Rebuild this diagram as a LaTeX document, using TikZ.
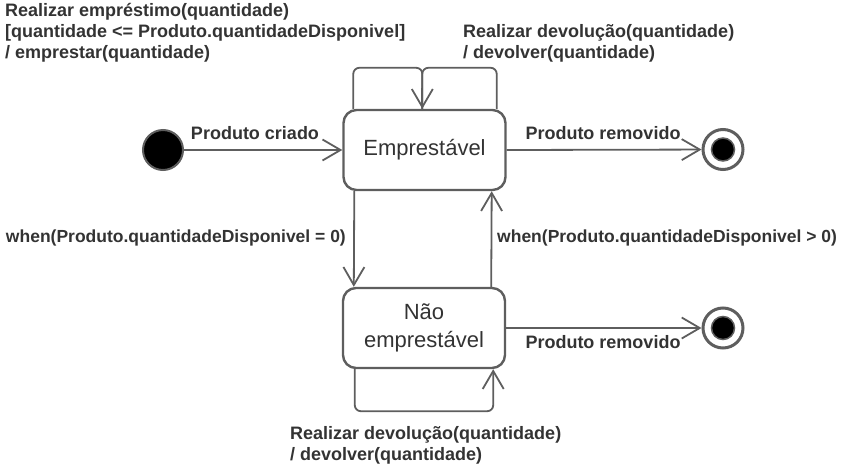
\documentclass[tikz,border=0pt]{standalone}
\usepackage{fontspec}
\setmainfont{Liberation Sans}
\usetikzlibrary{arrows.meta,calc}
\definecolor{linegray}{HTML}{5E5E5E}
\definecolor{txt}{HTML}{333333}
\tikzset{
  state/.style={draw=linegray, line width=2.4pt, rounded corners=13pt, fill=white,
    minimum width=162pt, minimum height=80pt, align=center, text=txt,
    font=\fontsize{22}{28.5}\selectfont, inner sep=0pt},
  conn/.style={draw=linegray, line width=1.8pt, -{Straight Barb[length=18pt,width=21pt,line width=1.8pt]}},
  loopline/.style={draw=linegray, line width=1.8pt, rounded corners=6pt},
  lbl/.style={text=txt, font=\bfseries\fontsize{18}{21}\selectfont, inner sep=0pt, align=left},
  guardlbl/.style={lbl, font=\bfseries\fontsize{17.5}{21}\selectfont},
  initst/.style={circle, fill=black, draw=linegray, line width=2pt, minimum size=40pt, inner sep=0pt},
  finalst/.style={circle, draw=linegray, line width=3pt, minimum size=40pt, inner sep=0pt, fill=white}
}
\begin{document}
\begin{tikzpicture}[x=1pt,y=-1pt]
\useasboundingbox (0,0) rectangle (844,469);
% states
\node[state] (e) at (424.5,150) {Emprestável};
\node[state] (n) at (424,328) {Não\\emprestável};
\node[initst] (i) at (163,150) {};
\node[finalst] (f1) at (723,149.5) {};
\node[finalst] (f2) at (723,328) {};
\fill[black, draw=linegray, line width=1.5pt] (f1) circle (11.5);
\fill[black, draw=linegray, line width=1.5pt] (f2) circle (11.5);
% coordinates for loops
\coordinate (tl) at ($(e.north west)+(11,0)$);
\coordinate (tr) at ($(e.north east)+(-10,0)$);
\coordinate (tm) at ($(e.north west)+(80,0)$);
\coordinate (bl) at ($(n.south west)+(13,0)$);
\coordinate (br) at ($(n.south east)+(-13,0)$);
\coordinate (dl1) at ($(e.south west)+(12,0)$);
\coordinate (dl2) at ($(n.north west)+(12,0)$);
\coordinate (ur1) at ($(n.north east)+(-15,0)$);
\coordinate (ur2) at ($(e.south east)+(-15,0)$);
% connectors
\draw[conn] (i) -- (e.west);
\draw[conn] (e.east) -- (f1);
\draw[conn] (n.east) -- (f2);
\draw[loopline] (tl) -- ++(0,-41) -| (tm);
\draw[loopline] (tr) -- ++(0,-41) -| (tm);
\draw[conn, shorten <=20pt] ($(tm)+(0,-41)$) -- (tm);
\draw[conn, rounded corners=6pt] (bl) -- ++(0,42) -| (br);
\draw[conn] (dl1) -- (dl2);
\draw[conn] (ur1) -- (ur2);
% labels
\node[lbl] (l1) at (255,133) {Produto criado};
\node[lbl] (l2) at (603,133) {Produto removido};
\node[lbl] (l3) at (603,342) {Produto removido};
\node[guardlbl, anchor=east] (l4) at (346,238) {when(Produto.quantidadeDisponivel = 0)};
\node[guardlbl, anchor=west] (l5) at (497,238) {when(Produto.quantidadeDisponivel > 0)};
\node[lbl, anchor=north west] (l6) at (5,3.5) {Realizar empréstimo(quantidade)\\{}[quantidade <= Produto.quantidadeDisponivel]\\/ emprestar(quantidade)};
\node[lbl, anchor=north west] (l7) at (463,24) {Realizar devolução(quantidade)\\/ devolver(quantidade)};
\node[lbl, anchor=north west] (l8) at (290,426) {Realizar devolução(quantidade)\\/ devolver(quantidade)};
\end{tikzpicture}
\end{document}
